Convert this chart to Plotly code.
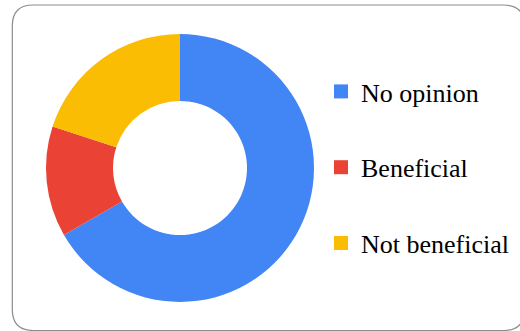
import plotly.graph_objects as go

labels = ["No opinion", "Beneficial", "Not beneficial"]
values = [10, 2, 3]
colors = ["#4285F4", "#EA4335", "#FBBC04"]

W, H = 520, 331

def px(x):
    return x / W

def py(y):
    return 1 - y / H

fig = go.Figure()

fig.add_trace(go.Pie(
    labels=labels,
    values=values,
    marker=dict(colors=colors, line=dict(width=0)),
    hole=0.5,
    sort=False,
    direction="clockwise",
    rotation=0,
    textinfo="none",
    hoverinfo="label+value+percent",
    showlegend=False,
    domain=dict(x=[px(46), px(314)], y=[py(302), py(34)]),
))

for lab, col in zip(labels, colors):
    fig.add_trace(go.Scatter(
        x=[None], y=[None], mode="markers",
        marker=dict(symbol="square", size=14, color=col),
        name=lab, legendgroup=lab, showlegend=True, hoverinfo="skip",
    ))

# rounded border
x0, y0, x1, y1, r = 12.3, 5.0, 524.5, 330.5, 21.0
path = (
    f"M {px(x0)},{py(y0 + r)} "
    f"Q {px(x0)},{py(y0)} {px(x0 + r)},{py(y0)} "
    f"L {px(x1 - r)},{py(y0)} "
    f"Q {px(x1)},{py(y0)} {px(x1)},{py(y0 + r)} "
    f"L {px(x1)},{py(y1 - r)} "
    f"Q {px(x1)},{py(y1)} {px(x1 - r)},{py(y1)} "
    f"L {px(x0 + r)},{py(y1)} "
    f"Q {px(x0)},{py(y1)} {px(x0)},{py(y1 - r)} Z"
)

fig.update_layout(
    width=W, height=H,
    margin=dict(l=0, r=0, t=0, b=0),
    paper_bgcolor="white",
    plot_bgcolor="white",
    xaxis=dict(visible=False),
    yaxis=dict(visible=False),
    shapes=[dict(type="path", xref="paper", yref="paper", path=path,
                 line=dict(color="#8c8c8c", width=1.2), fillcolor="rgba(0,0,0,0)",
                 layer="below")],
    legend=dict(
        x=px(321), y=py(68), xanchor="left", yanchor="top",
        font=dict(family="Times New Roman, Liberation Serif, serif",
                  size=26, color="black"),
        tracegroupgap=39,
        bgcolor="rgba(0,0,0,0)",
        itemclick=False, itemdoubleclick=False,
    ),
)

fig.write_html(
    "out.html",
    config={"displayModeBar": False},
    post_script="document.body.style.margin='0px';document.body.style.overflow='hidden';",
)
